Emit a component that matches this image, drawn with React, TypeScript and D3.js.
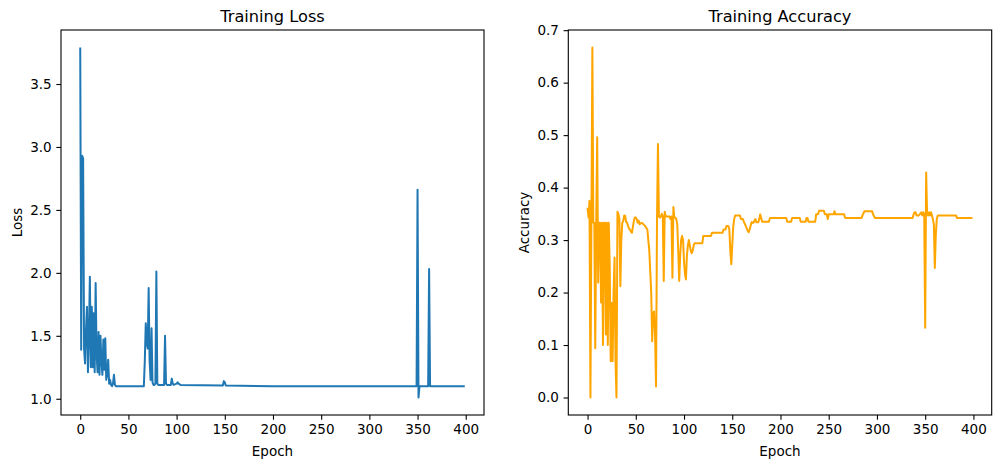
import React, { useRef, useEffect } from 'react';
import * as d3 from 'd3';

// [epoch, value]
const lossPoints: [number, number][] = [
  [0, 3.79], [1, 1.39], [2, 2.93], [3, 2.91], [4, 1.4], [5, 1.28], [6, 1.55], [7, 1.73],
  [8, 1.21], [9, 1.5], [10, 1.97], [11, 1.25], [12, 1.73], [13, 1.25], [14, 1.68], [15, 1.21],
  [16, 1.92], [17, 1.35], [18, 1.21], [19, 1.53], [20, 1.19], [21, 1.5], [22, 1.3], [23, 1.19],
  [24, 1.47], [25, 1.23], [26, 1.48], [27, 1.15], [28, 1.2], [29, 1.31], [30, 1.12], [31, 1.15],
  [32, 1.11], [33, 1.1], [34, 1.12], [35, 1.19], [36, 1.11], [37, 1.1], [40, 1.1], [50, 1.1],
  [66, 1.1], [67, 1.3], [68, 1.6], [69, 1.45], [70, 1.4], [71, 1.88], [72, 1.3], [73, 1.15],
  [74, 1.56], [75, 1.13], [76, 1.11], [77, 1.11], [78, 1.12], [79, 2.01], [80, 1.12], [81, 1.11],
  [87, 1.11], [88, 1.5], [89, 1.12], [90, 1.11], [94, 1.11], [95, 1.16], [96, 1.12], [97, 1.11],
  [100, 1.12], [101, 1.13], [102, 1.12], [104, 1.11], [148, 1.105], [149, 1.14], [150, 1.13],
  [151, 1.105], [200, 1.1], [349, 1.1], [350, 2.66], [351, 1.01], [352, 1.1], [361, 1.1],
  [362, 2.03], [363, 1.1], [399, 1.1],
];

const accPoints: [number, number][] = [
  [0, 0.362], [1, 0.343], [2, 0.375], [3, 0.0], [4, 0.333], [5, 0.667], [6, 0.333], [7, 0.333],
  [8, 0.094], [9, 0.333], [10, 0.496], [11, 0.219], [12, 0.333], [13, 0.333], [14, 0.181],
  [15, 0.333], [16, 0.1], [17, 0.333], [18, 0.333], [19, 0.12], [20, 0.333], [21, 0.1],
  [22, 0.333], [23, 0.25], [24, 0.069], [25, 0.18], [26, 0.069], [27, 0.2], [28, 0.267],
  [29, 0.069], [30, 0.0], [31, 0.354], [32, 0.35], [33, 0.34], [34, 0.212], [35, 0.3],
  [36, 0.333], [37, 0.336], [38, 0.347], [39, 0.346], [40, 0.335], [41, 0.333], [42, 0.327],
  [43, 0.322], [44, 0.32], [45, 0.316], [46, 0.314], [47, 0.325], [48, 0.336], [49, 0.343],
  [50, 0.343], [51, 0.34], [52, 0.333], [53, 0.337], [54, 0.33], [56, 0.333], [58, 0.33],
  [60, 0.326], [61, 0.323], [62, 0.32], [63, 0.3], [64, 0.28], [65, 0.24], [66, 0.2],
  [67, 0.107], [68, 0.16], [69, 0.164], [70, 0.12], [71, 0.021], [72, 0.34], [73, 0.483],
  [74, 0.345], [75, 0.343], [76, 0.345], [77, 0.35], [78, 0.345], [79, 0.222], [80, 0.354],
  [81, 0.345], [85, 0.345], [86, 0.34], [87, 0.345], [88, 0.228], [89, 0.363], [90, 0.343],
  [91, 0.343], [92, 0.34], [93, 0.33], [94, 0.28], [95, 0.222], [96, 0.27], [97, 0.3],
  [98, 0.308], [99, 0.3], [100, 0.26], [101, 0.235], [102, 0.225], [103, 0.27], [104, 0.29],
  [105, 0.3], [106, 0.29], [107, 0.28], [108, 0.275], [109, 0.28], [110, 0.29], [111, 0.294],
  [119, 0.294], [120, 0.308], [128, 0.308], [129, 0.314], [140, 0.314], [141, 0.32], [143, 0.32],
  [144, 0.327], [146, 0.327], [147, 0.32], [148, 0.28], [149, 0.254], [150, 0.29], [151, 0.325],
  [152, 0.34], [153, 0.347], [158, 0.347], [159, 0.34], [161, 0.34], [162, 0.335], [164, 0.327],
  [166, 0.318], [167, 0.315], [168, 0.32], [170, 0.334], [172, 0.333], [174, 0.34], [175, 0.334],
  [177, 0.334], [178, 0.34], [179, 0.349], [180, 0.342], [181, 0.335], [188, 0.335], [189, 0.342],
  [206, 0.342], [207, 0.335], [211, 0.335], [212, 0.342], [220, 0.342], [221, 0.335], [226, 0.335],
  [227, 0.342], [228, 0.342], [229, 0.335], [236, 0.335], [237, 0.349], [239, 0.349], [240, 0.356],
  [245, 0.356], [246, 0.349], [248, 0.349], [249, 0.34], [250, 0.349], [255, 0.349], [256, 0.355],
  [257, 0.349], [266, 0.349], [267, 0.342], [284, 0.342], [285, 0.347], [287, 0.355], [295, 0.355],
  [296, 0.349], [298, 0.342], [337, 0.342], [338, 0.349], [339, 0.353], [340, 0.353], [341, 0.347],
  [343, 0.347], [345, 0.35], [346, 0.353], [347, 0.347], [348, 0.353], [349, 0.35], [350, 0.133],
  [351, 0.429], [352, 0.35], [353, 0.347], [354, 0.353], [355, 0.347], [356, 0.353], [357, 0.347],
  [358, 0.34], [359, 0.33], [360, 0.247], [361, 0.31], [362, 0.34], [363, 0.347], [382, 0.347],
  [383, 0.342], [399, 0.342],
];

const epochTicks = [0, 50, 100, 150, 200, 250, 300, 350, 400];
const lossTicks = [1.0, 1.5, 2.0, 2.5, 3.0, 3.5];
const accTicks = [0.0, 0.1, 0.2, 0.3, 0.4, 0.5, 0.6, 0.7];

const App = () => {
  const svgRef = useRef(null);

  useEffect(() => {
    const W = 1001;
    const H = 469;
    const top = 30;
    const bottom = 415;
    const font = 'DejaVu Sans, sans-serif';

    const svg = d3.select(svgRef.current).attr('width', W).attr('height', H);
    svg.selectAll('*').remove();

    const panels = [
      { left: 61, right: 484, points: lossPoints, ticks: lossTicks, color: '#1f77b4', title: 'Training Loss', ylabel: 'Loss' },
      { left: 568.3, right: 991.7, points: accPoints, ticks: accTicks, color: '#ffa500', title: 'Training Accuracy', ylabel: 'Accuracy' },
    ];

    panels.forEach((p) => {
      // matplotlib style 5% margins around data extent
      const xExt = d3.extent(p.points, (d) => d[0]);
      const yExt = d3.extent(p.points, (d) => d[1]);
      const xPad = (xExt[1] - xExt[0]) * 0.05;
      const yPad = (yExt[1] - yExt[0]) * 0.05;

      const xScale = d3.scaleLinear().domain([xExt[0] - xPad, xExt[1] + xPad]).range([p.left, p.right]);
      const yScale = d3.scaleLinear().domain([yExt[0] - yPad, yExt[1] + yPad]).range([bottom, top]);

      const g = svg.append('g');

      const xAxis = d3.axisBottom(xScale).tickValues(epochTicks).tickSize(4.7).tickPadding(4.7).tickFormat(d3.format('d'));
      const yAxis = d3.axisLeft(yScale).tickValues(p.ticks).tickSize(4.7).tickPadding(4.7).tickFormat(d3.format('.1f'));

      const gx = g.append('g').attr('transform', `translate(0, ${bottom})`).call(xAxis);
      const gy = g.append('g').attr('transform', `translate(${p.left}, 0)`).call(yAxis);
      [gx, gy].forEach((a) => {
        a.select('.domain').remove();
        a.selectAll('line').attr('stroke', '#000').attr('stroke-width', 1.1);
        a.selectAll('text').attr('fill', '#000').style('font-family', font).style('font-size', '13.5px');
      });

      // data line
      const line = d3
        .line()
        .x((d) => xScale(d[0]))
        .y((d) => yScale(d[1]));
      g.append('path')
        .datum(p.points)
        .attr('d', line)
        .attr('fill', 'none')
        .attr('stroke', p.color)
        .attr('stroke-width', 2)
        .attr('stroke-linejoin', 'round');

      // frame
      g.append('rect')
        .attr('x', p.left)
        .attr('y', top)
        .attr('width', p.right - p.left)
        .attr('height', bottom - top)
        .attr('fill', 'none')
        .attr('stroke', '#000')
        .attr('stroke-width', 1.1);

      // title and labels
      g.append('text')
        .text(p.title)
        .attr('x', (p.left + p.right) / 2)
        .attr('y', top - 8)
        .attr('text-anchor', 'middle')
        .style('font-family', font)
        .style('font-size', '16.2px');

      g.append('text')
        .text('Epoch')
        .attr('x', (p.left + p.right) / 2)
        .attr('y', 456)
        .attr('text-anchor', 'middle')
        .style('font-family', font)
        .style('font-size', '13.5px');

      g.append('text')
        .text(p.ylabel)
        .attr('transform', `translate(${p.left - 39}, ${(top + bottom) / 2}) rotate(-90)`)
        .attr('text-anchor', 'middle')
        .style('font-family', font)
        .style('font-size', '13.5px');
    });
  }, []);

  return (
    <div style={{ position: 'absolute', left: 0, top: 0, background: '#fff' }}>
      <svg ref={svgRef} style={{ display: 'block' }}></svg>
    </div>
  );
};

export default App;
